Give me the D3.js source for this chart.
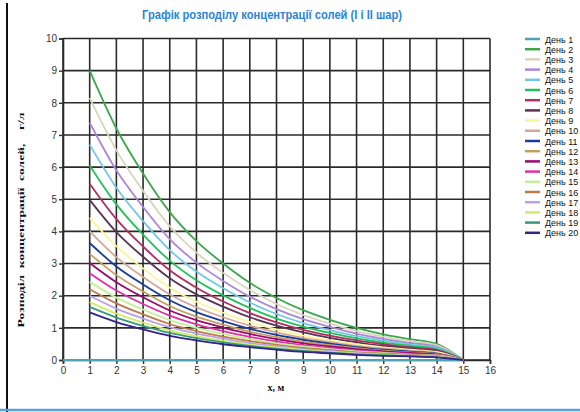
<!DOCTYPE html>
<html><head><meta charset="utf-8">
<script src="https://cdn.jsdelivr.net/npm/d3@7"></script>
<style>body{margin:0;background:#fff;}svg{display:block;}</style>
</head><body>
<svg id="chart" width="580" height="412"></svg>
<script>
const titleText = "Графік розподілу концентрації солей (І і ІІ шар)";
const yLabel = "Розподіл  концентрації  солей,    г/л";
const xLabel = "х, м";
const xTicks = [0,1,2,3,4,5,6,7,8,9,10,11,12,13,14,15,16];
const yTicks = [0,1,2,3,4,5,6,7,8,9,10];
const seriesNames = ["День 1","День 2","День 3","День 4","День 5","День 6","День 7","День 8","День 9","День 10",
  "День 11","День 12","День 13","День 14","День 15","День 16","День 17","День 18","День 19","День 20"];
const seriesColors = ["#4fa3b5","#3aa84a","#d9d5bd","#ad86d8","#70c8e4","#22c25a","#b0305e","#5a3452","#fbf59a","#d4a898",
  "#1a3c9c","#c4a060","#9a0a70","#e030a8","#c4ee98","#c07a48","#b8a2e4","#d2ec6a","#3a9a7c","#342488"];
const xDay1 = [0,1,2,3,4,5,6,7,8,9,10,11,12,13,14,15];
const xOther = [1,2,3,4,5,6,7,8,9,10,11,12,13,14,15];
const day1  = [0,0,0,0,0,0,0,0,0,0,0,0,0,0,0,0];
const day2  = [9.0,7.2,5.8,4.6,3.7,3.0,2.4,1.93,1.55,1.25,1.0,0.8,0.65,0.5,0];
const day3  = [8.15,6.52,5.26,4.16,3.34,2.71,2.18,1.74,1.4,1.13,0.9,0.73,0.59,0.46,0];
const day4  = [7.38,5.9,4.76,3.76,3.03,2.46,1.97,1.58,1.27,1.03,0.82,0.66,0.53,0.41,0];
const day5  = [6.7,5.36,4.32,3.42,2.75,2.23,1.79,1.43,1.15,0.93,0.74,0.6,0.48,0.38,0];
const day6  = [6.05,4.84,3.9,3.09,2.48,2.01,1.62,1.29,1.04,0.84,0.67,0.54,0.44,0.34,0];
const day7  = [5.48,4.38,3.53,2.79,2.25,1.82,1.46,1.17,0.94,0.76,0.61,0.49,0.39,0.31,0];
const day8  = [4.98,3.98,3.21,2.54,2.04,1.66,1.33,1.07,0.86,0.69,0.55,0.44,0.36,0.28,0];
const day9  = [4.42,3.54,2.85,2.25,1.81,1.47,1.18,0.95,0.76,0.61,0.49,0.39,0.32,0.25,0];
const day10 = [4.0,3.2,2.58,2.04,1.64,1.33,1.07,0.86,0.69,0.56,0.44,0.36,0.29,0.22,0];
const day11 = [3.64,2.91,2.35,1.86,1.49,1.21,0.97,0.78,0.63,0.51,0.4,0.32,0.26,0.2,0];
const day12 = [3.3,2.64,2.13,1.68,1.35,1.1,0.88,0.71,0.57,0.46,0.37,0.29,0.24,0.18,0];
const day13 = [3.02,2.42,1.95,1.54,1.24,1.01,0.81,0.65,0.52,0.42,0.34,0.27,0.22,0.17,0];
const day14 = [2.7,2.16,1.74,1.38,1.11,0.9,0.72,0.58,0.46,0.38,0.3,0.24,0.19,0.15,0];
const day15 = [2.43,1.94,1.57,1.24,1.0,0.81,0.65,0.52,0.42,0.34,0.27,0.22,0.17,0.14,0];
const day16 = [2.2,1.76,1.42,1.12,0.9,0.73,0.59,0.47,0.38,0.31,0.24,0.2,0.16,0.12,0];
const day17 = [2.0,1.6,1.29,1.02,0.82,0.67,0.53,0.43,0.34,0.28,0.22,0.18,0.14,0.11,0];
const day18 = [1.8,1.44,1.16,0.92,0.74,0.6,0.48,0.39,0.31,0.25,0.2,0.16,0.13,0.1,0];
const day19 = [1.65,1.32,1.06,0.84,0.68,0.55,0.44,0.35,0.28,0.23,0.18,0.15,0.12,0.09,0];
const day20 = [1.48,1.18,0.95,0.75,0.61,0.49,0.4,0.32,0.25,0.21,0.16,0.13,0.11,0.08,0];

const allValues = [day1,day2,day3,day4,day5,day6,day7,day8,day9,day10,day11,day12,day13,day14,day15,day16,day17,day18,day19,day20];
const series = allValues.map((vals,i)=>{
  const xs = i===0 ? xDay1 : xOther;
  return {name: seriesNames[i], color: seriesColors[i], pts: vals.map((v,j)=>({x:xs[j], y:v}))};
});

const svg = d3.select("#chart");
const m = {left:63, right:490, top:38.5, bottom:360};
const x = d3.scaleLinear().domain([0,16]).range([m.left, m.right]);
const y = d3.scaleLinear().domain([0,10]).range([m.bottom, m.top]);

// frame
svg.append("line").attr("x1",7).attr("x2",7).attr("y1",3).attr("y2",412).attr("stroke","#111").attr("stroke-width",2);
svg.append("line").attr("x1",0).attr("x2",580).attr("y1",410).attr("y2",410).attr("stroke","#5a9ee0").attr("stroke-width",2.5);

// title
svg.append("text").attr("x",272).attr("y",19).attr("text-anchor","middle")
  .attr("font-family","'Liberation Sans Narrow','Arial Narrow',Arial,sans-serif").attr("font-weight","bold")
  .attr("font-size",12).attr("fill","#2a86d6")
  .attr("textLength",260).attr("lengthAdjust","spacingAndGlyphs").text(titleText);

// grid
const g = svg.append("g");
g.selectAll("line.v").data(xTicks).join("line").attr("class","v")
  .attr("x1",d=>x(d)).attr("x2",d=>x(d)).attr("y1",y(10)).attr("y2",y(0))
  .attr("stroke","#2a2a2a").attr("stroke-width",1.6);
g.selectAll("line.h").data(yTicks).join("line").attr("class","h")
  .attr("x1",x(0)).attr("x2",x(16)).attr("y1",d=>y(d)).attr("y2",d=>y(d))
  .attr("stroke","#2a2a2a").attr("stroke-width",1.6);

// axes
const yAxis = d3.axisLeft(y).tickValues(yTicks).tickSize(4).tickPadding(2);
const xAxis = d3.axisBottom(x).tickValues(xTicks).tickSize(4).tickPadding(3);
const ya = svg.append("g").attr("transform",`translate(${m.left},0)`).call(yAxis);
const xa = svg.append("g").attr("transform",`translate(0,${m.bottom})`).call(xAxis);
[ya,xa].forEach(a=>{
  a.select(".domain").attr("stroke","#2a2a2a").attr("stroke-width",1.6);
  a.selectAll(".tick line").attr("stroke","#333").attr("stroke-width",1.4);
  a.selectAll(".tick text").attr("font-family","'Liberation Sans Narrow',Arial,sans-serif").attr("font-size",10).attr("fill","#333");
});

// series
const line = d3.line().x(d=>x(d.x)).y(d=>y(d.y)).curve(d3.curveMonotoneX);
svg.append("g").selectAll("path").data(series).join("path")
  .attr("d",d=>line(d.pts)).attr("fill","none").attr("stroke",d=>d.color).attr("stroke-width",1.8);

// axis labels
svg.append("text").attr("transform","translate(24,220) rotate(-90)").attr("text-anchor","middle")
  .attr("xml:space","preserve").style("white-space","pre")
  .attr("font-family","'Liberation Serif','Times New Roman',serif").attr("font-weight","bold")
  .attr("font-size",9).attr("fill","#111")
  .attr("textLength",215).attr("lengthAdjust","spacingAndGlyphs").text(yLabel);
svg.append("text").attr("x",276).attr("y",391).attr("text-anchor","middle")
  .attr("font-family","'Liberation Serif','Times New Roman',serif").attr("font-weight","bold")
  .attr("font-size",10).attr("fill","#111").text(xLabel);

// legend
const lg = svg.append("g");
const rows = lg.selectAll("g").data(series).join("g").attr("transform",(d,i)=>`translate(525,${39+i*10.2})`);
rows.append("line").attr("x1",0).attr("x2",15).attr("stroke",d=>d.color).attr("stroke-width",2.5);
rows.append("text").attr("x",20).attr("y",3.5).attr("font-family","'Liberation Sans Narrow',Arial,sans-serif")
  .attr("font-size",9).attr("fill","#111").text(d=>d.name);
</script>
</body></html>
